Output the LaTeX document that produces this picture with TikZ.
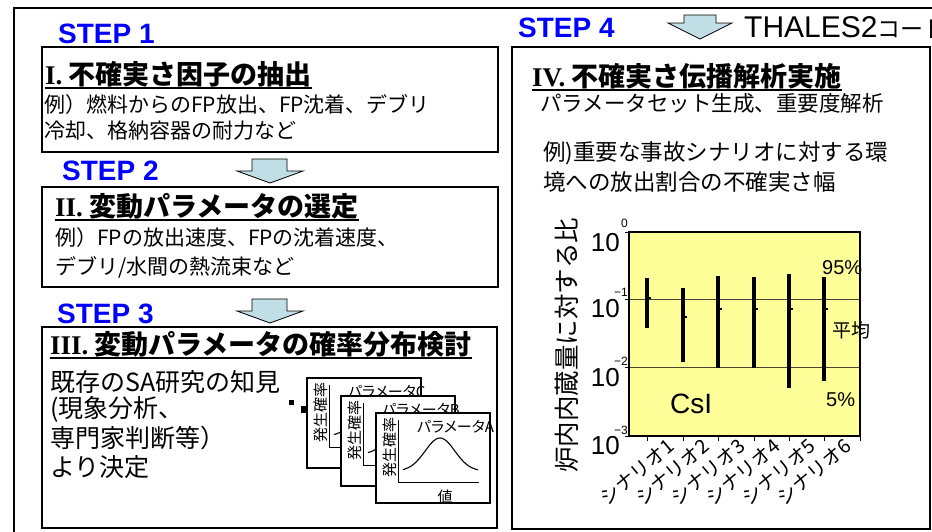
\documentclass[tikz,border=0pt]{standalone}
\usepackage{fontspec}
\setmainfont{Liberation Sans}
\newfontfamily\jp{Noto Sans CJK JP}
\newfontfamily\jpp[RawFeature=+palt]{Noto Sans CJK JP}
\newfontfamily\rmnum{Liberation Serif}
\definecolor{stepblue}{RGB}{0,0,255}
\definecolor{arrowfill}{RGB}{192,222,230}
\definecolor{plotyellow}{RGB}{255,255,153}
\definecolor{gridgray}{RGB}{70,70,50}
\newcommand\fs[1]{\fontsize{#1}{#1}\selectfont}
\tikzset{
  frame/.style={draw=black, line width=1.4pt},
  box/.style={draw=black, line width=1.3pt},
  steplbl/.style={text=stepblue, font=\bfseries\fs{28}, anchor=base west, inner sep=0pt},
  ttl/.style={font=\jp\bfseries\fs{27}, anchor=west, inner sep=0pt},
  ul/.style={line width=1.8pt},
  body/.style={font=\jp\fs{21}, anchor=west, inner sep=0pt},
  barrow/.style={fill=arrowfill, draw=black, line width=0.8pt, line join=miter},
  cardbox/.style={draw=black, fill=white, line width=1.1pt},
  cardtxt/.style={font=\jpp\fs{15}, inner sep=0pt},
  axisline/.style={line width=1pt},
  curve/.style={line width=1.1pt},
  errbar/.style={line width=4.6pt, line cap=butt},
  tick10/.style={font=\fs{26}, anchor=east, inner sep=0pt},
  sup10/.style={font=\fs{12}, anchor=east, inner sep=0pt},
  catlbl/.style={font=\jp\fs{19.5}, rotate=40, inner sep=0pt},
  plotlbl/.style={font=\jp\fs{20}, anchor=west, inner sep=0pt}
}
\newcommand\probcard[4]{%
\begin{scope}[shift={(#1,#2)}]
  \draw[cardbox] (0,0) rectangle (114,90);
  \node[cardtxt, font=\jp\fs{15}, rotate=90] (#4y) at (14,34) {発生確率};
  \draw[axisline] (22,7) -- (22,69) -- (103,69);
  \node[cardtxt, anchor=west] (#4t) at (41,14) {パラメータ#3};
  \draw[curve] plot[domain=27:102, samples=60] (\x, {58-33*exp(-(((\x-64)/21)^2))});
  \node[cardtxt, font=\jp\fs{15}] (#4v) at (69,84) {値};
\end{scope}}
\begin{document}
\begin{tikzpicture}[x=1pt, y=-1pt]
\useasboundingbox (0,0) rectangle (932,531);
\clip (0,0) rectangle (932,531);
\fill[white] (0,0) rectangle (932,531);
% outer frame
\draw[frame] (14,8) rectangle (960,560);

% STEP labels
\node[steplbl] (s1) at (58,43) {STEP 1};
\node[steplbl] (s2) at (62,180) {STEP 2};
\node[steplbl] (s3) at (57,323) {STEP 3};
\node[steplbl] (s4) at (518,37) {STEP 4};
\node[anchor=base west, inner sep=0pt, font=\fs{30}] (thales) at (744,37) {THALES2{\jp\fs{23}コード}};

% block arrows
\draw[barrow] (252,159) -- (287,159) -- (287,171) -- (303,171) -- (270,183) -- (237,171) -- (252,171) -- cycle;
\draw[barrow] (252,299) -- (287,299) -- (287,311) -- (303,311) -- (270,323) -- (237,311) -- (252,311) -- cycle;
\draw[barrow] (684,15) -- (716,15) -- (716,23) -- (732,23) -- (700,39) -- (668,23) -- (684,23) -- cycle;

% Box 1
\draw[box] (42,47) rectangle (498,152);
\node[ttl] (t1) at (45,74) {{\rmnum\bfseries I.} 不確実さ因子の抽出};
\draw[ul] ([yshift=-1pt]t1.south west) -- ([yshift=-1pt]t1.south east);
\node[body] (b1a) at (44,105) {例）燃料からのFP放出、FP沈着、デブリ};
\node[body] (b1b) at (44,131) {冷却、格納容器の耐力など};

% Box 2
\draw[box] (42,187) rectangle (498,287);
\node[ttl] (t2) at (55,206) {{\rmnum\bfseries II.} 変動パラメータの選定};
\draw[ul] ([yshift=-1pt]t2.south west) -- ([yshift=-1pt]t2.south east);
\node[body] (b2a) at (55,238) {例）FPの放出速度、FPの沈着速度、};
\node[body] (b2b) at (55,267) {デブリ/水間の熱流束など};

% Box 3
\draw[box] (42,327) rectangle (497,528);
\node[ttl] (t3) at (50,344) {{\rmnum\bfseries III.} 変動パラメータの確率分布検討};
\draw[ul] ([yshift=-1pt]t3.south west) -- ([yshift=-1pt]t3.south east);
\node[body, font=\jp\fs{25}] (b3a) at (50,382) {既存のSA研究の知見};
\node[body, font=\jp\fs{25}] (b3b) at (50,409) {(現象分析、};
\node[body, font=\jp\fs{25}] (b3c) at (50,438) {専門家判断等）};
\node[body, font=\jp\fs{25}] (b3d) at (50,467) {より決定};

% small squares
\fill[black] (289,400) rectangle (294,405);
\fill[black] (301,406) rectangle (306,413);
% probability cards
\probcard{307}{378}{C}{cc}
\probcard{341}{396}{B}{cb}
\probcard{376}{413}{A}{ca}

% Box 4
\draw[box] (512,47) rectangle (930,529);
\node[ttl] (t4) at (532,76) {{\rmnum\bfseries IV.} 不確実さ伝播解析実施};
\draw[ul] ([yshift=-1pt]t4.south west) -- ([yshift=-1pt]t4.south east);
\node[body, font=\jp\fs{21.5}] (b4a) at (540,103) {パラメータセット生成、重要度解析};
\node[body, font=\jp\fs{22.5}] (b4b) at (543,153) {例)重要な事故シナリオに対する環};
\node[body, font=\jp\fs{22.5}] (b4c) at (543,182) {境への放出割合の不確実さ幅};

% chart
\fill[plotyellow] (629,232) rectangle (860,436);
\draw[gridgray, line width=0.9pt] (629,299) -- (860,299);
\draw[gridgray, line width=0.9pt] (629,367) -- (860,367);
\draw[line width=1.4pt] (629,232) rectangle (860,436);
\foreach \tx in {647,683,718,754,789,824,860} \draw[line width=0.8pt] (\tx,436) -- (\tx,441);
\foreach \ty in {232,299,367,436} \draw[line width=0.8pt] (625,\ty) -- (629,\ty);

% y tick labels
\node[tick10] (y0) at (620,243) {10};
\node[sup10] (y0s) at (628,223) {0};
\node[tick10] (y1) at (620,309) {10};
\node[sup10] (y1s) at (628,292) {−1};
\node[tick10] (y2) at (620,378) {10};
\node[sup10] (y2s) at (628,361) {−2};
\node[tick10] (y3) at (620,446) {10};
\node[sup10] (y3s) at (628,430) {−3};

% axis title
\node[font=\jp\fs{25.5}, rotate=90, inner sep=0pt] (yt) at (567,345) {炉内内蔵量に対する比};

% error bars
\draw[errbar] (647,278) -- (647,328);
\draw[errbar] (683,288) -- (683,362);
\draw[errbar] (718,276) -- (718,368);
\draw[errbar] (754,277) -- (754,368);
\draw[errbar] (789,274) -- (789,388);
\draw[errbar] (824,277) -- (824,381);
% mean marks
\foreach \mx/\my in {647/298,683/317,718/309,754/309,789/309,824/309}
  \draw[line width=1.4pt] (\mx+2,\my) -- (\mx+4,\my);

% chart labels
\node[plotlbl, font=\fs{20}] (p95) at (822,268) {95\%};
\node[plotlbl, font=\jp\fs{19}] (pav) at (832,330) {平均};
\node[plotlbl, font=\fs{20}] (p5) at (826,400) {5\%};
\node[plotlbl, font=\fs{28}] (csi) at (670,404) {CsI};

% category labels
\foreach \i in {1,...,6}
  \node[catlbl] (cat\i) at ({637+35.4*(\i-1)},472) {シナリオ\i};
\end{tikzpicture}
\end{document}
